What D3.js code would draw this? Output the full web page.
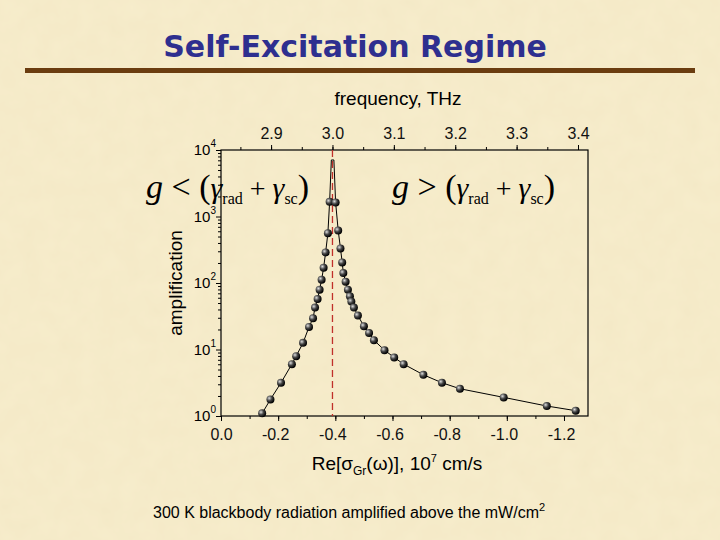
<!DOCTYPE html>
<html><head><meta charset="utf-8">
<script src="https://cdn.jsdelivr.net/npm/d3@7"></script>
<style>body{margin:0;background:#f6ebc9}</style>
</head><body>
<svg id="c" width="720" height="540"></svg>
<script>
// measured points: x = Re[sigma], y = log10(amplification)
const sigX = [-0.144,-0.173,-0.21,-0.248,-0.263,-0.287,-0.308,-0.322,-0.329,-0.338,-0.345,-0.352,-0.359,-0.366,-0.374,-0.38,
  -0.401,-0.41,-0.418,-0.424,-0.428,-0.436,-0.444,-0.451,-0.456,-0.465,-0.479,-0.5,-0.518,-0.535,-0.572,-0.606,-0.639,-0.708,-0.773,-0.836,-0.989,-1.14,-1.241];
const logAmp = [0.04,0.25,0.5,0.78,0.9,1.1,1.34,1.47,1.63,1.76,1.9,2.05,2.23,2.46,2.75,3.22,
  3.21,2.79,2.52,2.31,2.15,2.02,1.9,1.8,1.72,1.63,1.51,1.35,1.25,1.14,0.99,0.88,0.78,0.62,0.5,0.41,0.28,0.15,0.08];
// line-only peak near resonance
const peakX = [-0.386,-0.395];
const peakLog = [3.85,3.85];
const xTicks = [0,-0.2,-0.4,-0.6,-0.8,-1.0,-1.2];
const fTicks = [2.9,3.0,3.1,3.2,3.3,3.4];
const yTicks = [0,1,2,3,4];

const svg = d3.select("#c");
const defs = svg.append("defs");
const f = defs.append("filter").attr("id","tex");
f.append("feTurbulence").attr("type","fractalNoise").attr("baseFrequency",0.05).attr("numOctaves",3).attr("seed",4);
f.append("feColorMatrix").attr("values","0 0 0 0 0.85  0 0 0 0 0.75  0 0 0 0 0.5  0 0 0 0.35 0");
const rg = defs.append("radialGradient").attr("id","ball").attr("cx","35%").attr("cy","35%").attr("r","65%");
rg.append("stop").attr("offset","0%").attr("stop-color","#ddd");
rg.append("stop").attr("offset","50%").attr("stop-color","#444");
rg.append("stop").attr("offset","100%").attr("stop-color","#000");

svg.append("rect").attr("width",720).attr("height",540).attr("fill","#f7edcc");
svg.append("rect").attr("width",720).attr("height",540).attr("filter","url(#tex)");

svg.append("text").attr("x",355).attr("y",57).attr("text-anchor","middle")
  .attr("font-family","'Comic Sans MS','DejaVu Sans',sans-serif").attr("font-weight","bold")
  .attr("font-size",30).attr("fill","#2e2f8f").text("Self-Excitation Regime");
svg.append("rect").attr("x",25).attr("y",68).attr("width",670).attr("height",5).attr("fill","#6b3d10");

const L=221,R=588,T=150,B=416;
const x = d3.scaleLinear().domain([0,-1.284]).range([L,R]);
const y = d3.scaleLinear().domain([0,4]).range([B,T]);
const fx = d3.scaleLinear().domain([3.0,3.4]).range([x(-0.39),578]);
const fmt = d => d3.format(".1f")(d).replace("−","-");

const g = svg.append("g").attr("font-family","Arial,'Liberation Sans',sans-serif");
g.append("rect").attr("x",L).attr("y",T).attr("width",R-L).attr("height",B-T).attr("fill","none").attr("stroke","#000").attr("stroke-width",1.2);

// bottom axis
const bx = g.append("g").attr("transform",`translate(0,${B})`)
  .call(d3.axisBottom(x).tickValues(xTicks).tickFormat(fmt).tickSize(5).tickSizeOuter(0));
bx.append("g").call(d3.axisBottom(x).tickValues(d3.range(0,-1.29,-0.1)).tickFormat("").tickSize(3).tickSizeOuter(0));
// top axis
const tx = g.append("g").attr("transform",`translate(0,${T})`)
  .call(d3.axisTop(fx).tickValues(fTicks).tickFormat(fmt).tickSize(5).tickSizeOuter(0));
tx.append("g").call(d3.axisTop(fx).tickValues(d3.range(2.85,3.42,0.05)).tickFormat("").tickSize(3).tickSizeOuter(0));
// left axis (log)
const ly = g.append("g").attr("transform",`translate(${L},0)`)
  .call(d3.axisLeft(y).tickValues(yTicks).tickFormat("").tickSize(5).tickSizeOuter(0));
const minor=[]; for(let d=0;d<4;d++) for(let k=2;k<10;k++) minor.push(d+Math.log10(k));
ly.append("g").call(d3.axisLeft(y).tickValues(minor).tickFormat("").tickSize(3).tickSizeOuter(0));
[bx,tx,ly].forEach(a=>{a.selectAll("path").remove();a.selectAll("line").attr("stroke","#000");a.selectAll("text").attr("font-size",16).attr("fill","#111")});
bx.selectAll(".tick text").attr("dy","1.0em").attr("dx",d=>d<0?"-3":"0");
tx.selectAll(".tick text").attr("dy","-0.2em");
yTicks.forEach(d=>{
  const t=g.append("text").attr("x",L-5).attr("y",y(d)+5).attr("text-anchor","end").attr("font-size",15);
  t.append("tspan").text("10");
  t.append("tspan").attr("dy",-8).attr("font-size",10).text(d);
});

g.append("text").attr("x",398).attr("y",105).attr("text-anchor","middle").attr("font-size",19).text("frequency, THz");
g.append("text").attr("transform","translate(182,283) rotate(-90)").attr("text-anchor","middle").attr("font-size",19).text("amplification");
const xl=g.append("text").attr("x",397).attr("y",470).attr("text-anchor","middle").attr("font-size",19);
xl.append("tspan").text("Re[σ");
xl.append("tspan").attr("font-size",12).attr("dy",5).text("Gr");
xl.append("tspan").attr("dy",-5).text("(ω)], 10");
xl.append("tspan").attr("font-size",11).attr("dy",-8).text("7");
xl.append("tspan").attr("dy",8).text(" cm/s");

// dashed resonance line
g.append("line").attr("x1",x(-0.39)).attr("x2",x(-0.39)).attr("y1",T).attr("y2",B)
  .attr("stroke","#c0302a").attr("stroke-width",1.3).attr("stroke-dasharray","7,4");

// curve
const pts = sigX.map((v,i)=>[v,logAmp[i]]);
const all = pts.slice(0,16).concat(peakX.map((v,i)=>[v,peakLog[i]]), pts.slice(16));
g.append("path").datum(all).attr("fill","none").attr("stroke","#000").attr("stroke-width",1)
  .attr("d",d3.line().x(d=>x(d[0])).y(d=>y(d[1])));
g.selectAll("circle.p").data(pts).join("circle").attr("class","p")
  .attr("cx",d=>x(d[0])).attr("cy",d=>y(d[1])).attr("r",4).attr("fill","url(#ball)");

// formulas
function formula(x0, sym){
  const t = svg.append("text").attr("x",x0).attr("y",198)
    .attr("font-family","'Liberation Serif','DejaVu Serif',serif").attr("font-size",34).attr("fill","#000");
  t.append("tspan").attr("font-style","italic").text("g");
  t.append("tspan").text(" "+sym+" (");
  t.append("tspan").attr("font-style","italic").attr("font-size",30).text("γ");
  t.append("tspan").attr("font-size",16).attr("dy",6).text("rad");
  t.append("tspan").attr("font-size",28).attr("dy",-6).text(" + ");
  t.append("tspan").attr("font-style","italic").attr("font-size",30).text("γ");
  t.append("tspan").attr("font-size",16).attr("dy",6).text("sc");
  t.append("tspan").attr("dy",-6).text(")");
}
formula(146,"<");
formula(392,">");

svg.append("text").attr("x",153).attr("y",518).attr("font-family","Arial,'Liberation Sans',sans-serif")
  .attr("font-size",16).text("300 K blackbody radiation amplified above the mW/cm")
  .append("tspan").attr("dy",-7).attr("font-size",11).text("2");
</script>
</body></html>
